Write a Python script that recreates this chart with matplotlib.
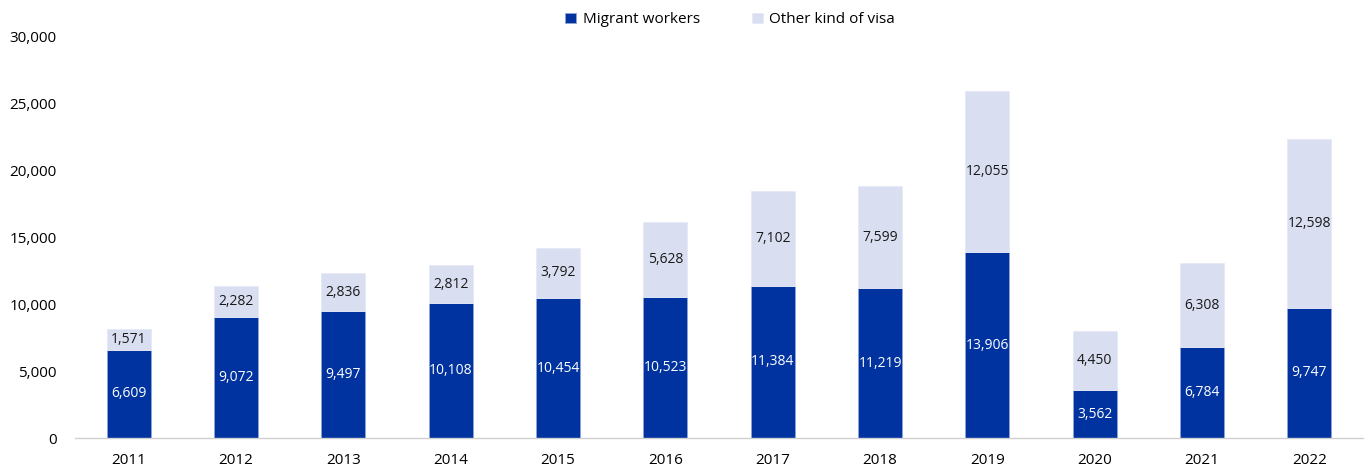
import matplotlib
matplotlib.use('Agg')
import matplotlib.pyplot as plt
import numpy as np

plt.rcParams['font.family'] = ['Open Sans', 'DejaVu Sans']

# data
years = ['2011', '2012', '2013', '2014', '2015', '2016',
         '2017', '2018', '2019', '2020', '2021', '2022']
migrant_workers = [6609, 9072, 9497, 10108, 10454, 10523,
                   11384, 11219, 13906, 3562, 6784, 9747]
other_visa = [1571, 2282, 2836, 2812, 3792, 5628,
              7102, 7599, 12055, 4450, 6308, 12598]

dark_blue = '#0033A0'
light_blue = '#D9DFF1'

fig = plt.figure(figsize=(13.7, 4.68), dpi=100)
ax = fig.add_axes([0.0547, 0.0641, 0.9403, 0.857])

x = np.arange(len(years))
width = 0.41
b1 = ax.bar(x, migrant_workers, width, color=dark_blue, edgecolor='#8FA3D6',
            linewidth=0.6, label='Migrant workers')
b2 = ax.bar(x, other_visa, width, bottom=migrant_workers, color=light_blue,
            edgecolor='#E6EAF6', linewidth=0.6, label='Other kind of visa')

# value labels in the middle of each segment
for xi, m, o in zip(x, migrant_workers, other_visa):
    ax.text(xi, m / 2, '{:,}'.format(m), ha='center', va='center',
            color='white', fontsize=10)
    ax.text(xi, m + o / 2, '{:,}'.format(o), ha='center', va='center',
            color='#1a1a1a', fontsize=10)

ax.set_xlim(-0.5, len(years) - 0.5)
ax.set_ylim(0, 30000)
ax.set_yticks(np.arange(0, 30001, 5000))
ax.yaxis.set_major_formatter(matplotlib.ticker.FuncFormatter(lambda v, p: '{:,}'.format(int(v))))
ax.set_xticks(x)
ax.set_xticklabels(years)
ax.tick_params(axis='both', length=0, labelsize=11, colors='black')
ax.tick_params(axis='y', pad=13)
ax.tick_params(axis='x', pad=11)

for side in ['top', 'right', 'left']:
    ax.spines[side].set_visible(False)
ax.spines['bottom'].set_color('#D0D0D0')
ax.spines['bottom'].set_linewidth(1.0)

fig.legend(handles=[b1, b2], loc='upper center', bbox_to_anchor=(0.533, 1.003),
           ncol=2, frameon=False, fontsize=11, handlelength=0.7, handleheight=0.7,
           handletextpad=0.45, columnspacing=3.4)

plt.savefig('out.png', dpi=100)
